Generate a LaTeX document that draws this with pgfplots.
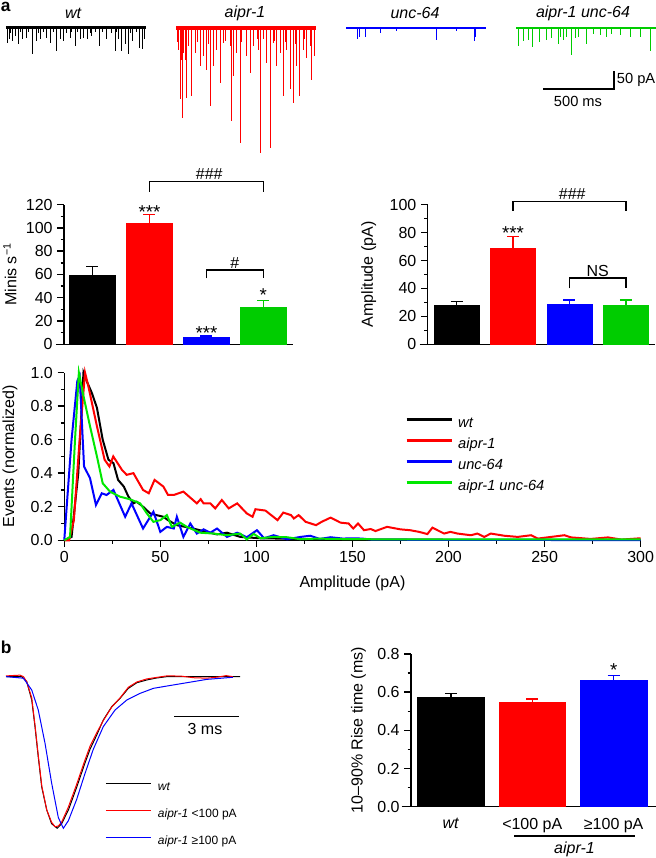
\documentclass[border=0pt]{standalone}
\usepackage{fontspec}
\setmainfont{Liberation Sans}
\usepackage{pgfplots}
\pgfplotsset{compat=1.18}

\definecolor{pred}{RGB}{255,0,0}
\definecolor{pblue}{RGB}{0,0,255}
\definecolor{bgreen}{RGB}{0,204,0}
\definecolor{lgreen}{RGB}{0,232,0}

\newcommand\fs{\fontsize{12pt}{14pt}\selectfont}
\tikzset{bk/.style={line width=1.1pt, black}, st/.style={anchor=base, font=\fontsize{14pt}{16pt}\selectfont}}

\pgfplotsset{
  /pgf/number format/assume math mode=true,
  every axis/.append style={font=\fs},
  tick label style={font=\fs},
  traceax/.style={scale only axis, hide axis, clip=false, width=105pt, height=97pt,
    xmin=0, xmax=1000, ymin=-360, ymax=0, anchor=north west},
  barax/.style={scale only axis, axis x line=bottom, axis y line=left,
    axis line style={-, line width=1.1pt}, tick style={line width=1.1pt, black},
    tick align=outside, major tick length=5pt, minor tick length=2.6pt,
    xtick=\empty, ymin=0, clip=false, minor y tick num=1, anchor=south west},
  errb/.style={error bars/.cd, y dir=plus, y explicit,
    error bar style={line width=1.1pt, #1},
    error mark options={rotate=90, line width=1.1pt, #1, mark size=4.5pt}},
}

\begin{document}
\begin{tikzpicture}
\useasboundingbox (0,0) rectangle (492pt,643.5pt);

% ---------- panel a labels ----------
\node[font=\fontsize{13pt}{15pt}\selectfont\bfseries, anchor=west, inner sep=0pt] at (0.4pt,638pt) {a};
\node[font=\fs\itshape] at (54.75pt,633.5pt) {wt};
\node[font=\fs\itshape] at (183.75pt,633.5pt) {aipr-1};
\node[font=\fs\itshape] at (311.25pt,633.5pt) {unc-64};
\node[font=\fs\itshape] at (437.25pt,633.5pt) {aipr-1 unc-64};

% ---------- traces ----------
\begin{axis}[traceax, at={(4.5pt,622.9pt)}]
\addplot[black, line width=2.2pt] coordinates {(0,0) (1000,0)};
\addplot[black, ycomb, line width=0.6pt] coordinates {
(10,-42)(24,-32)(45,-37)(64,-23)(88,-46)(119,-32)(143,-28)(190,-74)(214,-37)(248,-31)
(290,-28)(314,-42)(357,-65)(386,-32)(409,-37)(457,-28)(493,-51)(528,-32)(552,-28)(581,-31)
(612,-23)(666,-51)(719,-32)(778,-65)(802,-32)(826,-65)(850,-46)(873,-74)(904,-37)(952,-56)
(976,-60)(992,-32)(35,-15)(100,-12)(160,-14)(230,-16)(270,-12)(340,-14)(430,-15)(470,-12)
(510,-14)(600,-15)(640,-12)(690,-14)(750,-16)(790,-14)(890,-15)(930,-12)};
\end{axis}

\begin{axis}[traceax, at={(132pt,622.5pt)}]
\addplot[pred, line width=2.6pt] coordinates {(0,0) (1000,0)};
\addplot[pred, ycomb, line width=0.6pt] coordinates {
(29,-199)(45,-250)(64,-88)(76,-194)(112,-190)(136,-69)(171,-106)(195,-79)(219,-116)(243,-218)
(267,-106)(290,-60)(314,-153)(338,-42)(386,-51)(393,-259)(409,-134)(433,-69)(457,-319)(505,-79)
(528,-125)(552,-51)(588,-60)(605,-349)(623,-32)(647,-97)(671,-333)(695,-42)(719,-106)(743,-69)
(766,-190)(790,-60)(814,-171)(838,-208)(862,-106)(885,-190)(909,-60)(933,-83)(957,-51)(969,-144)
(992,-79)(10,-40)(20,-60)(35,-90)(55,-70)(90,-50)(150,-40)(230,-45)(350,-35)(470,-40)(580,-30)
(700,-35)(780,-40)(850,-45)(920,-30)};
\end{axis}

\begin{axis}[traceax, at={(259.5pt,622.5pt)}]
\addplot[pblue, line width=2.0pt] coordinates {(0,0) (1000,0)};
\addplot[pblue, ycomb, line width=0.6pt] coordinates {
(81,-31)(95,-26)(136,-24)(243,-15)(362,-9)(643,-33)(790,-7)(914,-37)(923,-26)};
\end{axis}

\begin{axis}[traceax, at={(387pt,622.5pt)}]
\addplot[bgreen, line width=2.0pt] coordinates {(0,0) (1000,0)};
\addplot[bgreen, ycomb, line width=0.6pt] coordinates {
(19,-49)(52,-37)(88,-33)(119,-54)(167,-40)(219,-33)(255,-28)(302,-44)(319,-24)(338,-33)
(362,-26)(393,-74)(421,-28)(445,-26)(505,-44)(552,-17)(600,-19)(647,-26)(683,-17)(743,-20)
(814,-26)(885,-26)(957,-63)};
\end{axis}

% scale bar a
\draw[bk] (407.25pt,576.75pt) -- (460.5pt,576.75pt) -- (460.5pt,590.25pt);
\node[font=\fontsize{11pt}{13pt}\selectfont, anchor=west, inner sep=0pt] at (462.5pt,583.5pt) {50 pA};
\node[font=\fontsize{11pt}{13pt}\selectfont] at (433.5pt,567.5pt) {500 ms};

% ---------- bar chart: minis ----------
\begin{axis}[barax, at={(48pt,385.3pt)}, width=171.75pt, height=104.7pt,
  xmin=-0.5, xmax=3.52, ymax=120, ytick={0,20,...,120},
  ylabel={Minis s\textsuperscript{−1}},
  ylabel style={at={(axis description cs:-0.236,0.5)}, anchor=center}]
\addplot[ybar, bar width=0.81, fill=black, draw=black, line width=0.3pt, errb=black]
  coordinates {(0,59.6) +- (0,7.4)};
\addplot[ybar, bar width=0.81, fill=pred, draw=pred, line width=0.3pt, errb=pred]
  coordinates {(1,104) +- (0,7.7)};
\addplot[ybar, bar width=0.81, fill=pblue, draw=pblue, line width=0.3pt, errb=pblue]
  coordinates {(2,5.7) +- (0,1.5)};
\addplot[ybar, bar width=0.81, fill=bgreen, draw=bgreen, line width=0.3pt, errb=bgreen]
  coordinates {(3,31.8) +- (0,5.7)};
\draw[bk] ([xshift=-6pt]axis description cs:0,0) -- (axis description cs:0,0);
\node[st] at (axis cs:1,108.3) {***};
\node[st] at (axis cs:2,3.8) {***};
\node[st] at (axis cs:3,36.7) {*};
\draw[bk] (axis cs:1,131) -- (axis cs:1,140) -- (axis cs:3,140) -- (axis cs:3,131);
\node[anchor=base] at (axis cs:2.05,141.5) {\#\#\#};
\draw[bk] (axis cs:2,56.7) -- (axis cs:2,63.9) -- (axis cs:3,63.9) -- (axis cs:3,56.7);
\node[anchor=base] at (axis cs:2.5,65.5) {\#};
\end{axis}

% ---------- bar chart: amplitude ----------
\begin{axis}[barax, at={(320.8pt,385.3pt)}, width=170.25pt, height=104.7pt,
  xmin=-0.51, xmax=3.51, ymax=100, ytick={0,20,...,100},
  ylabel={Amplitude (pA)},
  ylabel style={at={(axis description cs:-0.26,0.5)}, anchor=center}]
\addplot[ybar, bar width=0.8, fill=black, draw=black, line width=0.3pt, errb=black]
  coordinates {(0,28.2) +- (0,2.6)};
\addplot[ybar, bar width=0.8, fill=pred, draw=pred, line width=0.3pt, errb=pred]
  coordinates {(1,68.7) +- (0,8.6)};
\addplot[ybar, bar width=0.8, fill=pblue, draw=pblue, line width=0.3pt, errb=pblue]
  coordinates {(2,28.9) +- (0,2.8)};
\addplot[ybar, bar width=0.8, fill=bgreen, draw=bgreen, line width=0.3pt, errb=bgreen]
  coordinates {(3,27.9) +- (0,3.8)};
\draw[bk] ([xshift=-6pt]axis description cs:0,0) -- (axis description cs:0,0);
\node[st] at (axis cs:1,74.9) {***};
\draw[bk] (axis cs:1,95.5) -- (axis cs:1,102.2) -- (axis cs:3,102.2) -- (axis cs:3,95.5);
\node[anchor=base] at (axis cs:2.05,103.8) {\#\#\#};
\draw[bk] (axis cs:2,40) -- (axis cs:2,47.3) -- (axis cs:3,47.3) -- (axis cs:3,40);
\node[anchor=base] at (axis cs:2.5,48.5) {NS};
\end{axis}

% ---------- histogram ----------
\begin{axis}[scale only axis, anchor=south west, at={(48.2pt,238.3pt)},
  width=432.3pt, height=125.8pt, clip=false,
  axis x line=bottom, axis y line=left,
  axis line style={-, line width=1.1pt}, tick style={line width=1.1pt, black},
  tick align=outside, major tick length=5pt, minor tick length=2.6pt,
  xmin=0, xmax=300, ymin=0, ymax=1,
  xtick={0,50,...,300}, minor x tick num=1,
  ytick={0,0.2,...,1.0}, minor y tick num=1,
  yticklabel style={/pgf/number format/.cd, fixed, fixed zerofill, precision=1},
  xlabel={Amplitude (pA)},
  xlabel style={at={(axis description cs:0.5,0)}, anchor=center, yshift=-32pt},
  ylabel={Events (normalized)},
  ylabel style={at={(axis description cs:-0.094,0.5)}, anchor=center},
  legend cell align=left,
  legend image code/.code={\draw[#1, line width=2pt] (0pt,0.32em) -- (33.75pt,0.32em);},
  legend style={at={(axis description cs:0.591,0.74)}, anchor=north west,
    draw=none, fill=none, inner sep=0pt, row sep=4.75pt,
    font=\fontsize{11pt}{13pt}\selectfont\itshape,
    nodes={inner sep=0pt, text height=8pt, text depth=3pt},
    /tikz/every odd column/.append style={column sep=4pt}},
  every axis plot/.append style={line width=1.5pt}]
\addplot[black] coordinates {
(0,0)(3.8,0.02)(7.3,0.40)(10,1.0)(12,0.94)(14.3,0.88)(17,0.79)(20,0.6)(23,0.48)(25.6,0.46)
(28,0.36)(31,0.32)(33.4,0.26)(36,0.22)(37.7,0.23)(41,0.20)(44.7,0.16)(48,0.15)(51.6,0.14)(54,0.12)
(58.6,0.09)(63,0.08)(67,0.07)(74,0.05)(79.5,0.035)(84.7,0.045)(91.6,0.02)(102,0.012)(112.5,0.01)
(123,0.006)(140,0.005)(160,0.004)(200,0.003)(250,0.002)(300,0.002)};
\addlegendentry{wt}
\addplot[pred] coordinates {
(0,0)(2.5,0)(5,0.12)(8,0.6)(10.8,1.0)(12.5,0.92)(17,0.68)(21,0.48)(23.5,0.44)(25.5,0.5)
(30,0.42)(32.5,0.39)(36,0.40)(41,0.30)(44,0.28)(47,0.36)(51.6,0.32)(54,0.27)(57,0.27)(62,0.29)
(66,0.25)(69,0.22)(71,0.245)(72.5,0.22)(76,0.22)(78.6,0.19)(82,0.24)(85.6,0.19)(90,0.22)(95,0.16)
(98,0.14)(99.5,0.185)(104.7,0.177)(111,0.12)(114,0.165)(118,0.15)(119.5,0.13)(122,0.15)(125.6,0.11)
(127,0.105)(131,0.09)(134,0.11)(138.6,0.135)(143.8,0.105)(148,0.10)(150.4,0.07)(152.9,0.10)(156,0.06)
(159.5,0.067)(162,0.055)(168,0.08)(175,0.065)(180,0.06)(184.7,0.05)(189,0.037)(191.6,0.075)(197.7,0.04)
(201,0.05)(204.7,0.04)(211.6,0.03)(215,0.04)(218.6,0.02)(222,0.04)(229,0.027)(236,0.02)(243,0.03)
(246.4,0.01)(253.4,0.02)(260.3,0.03)(263.8,0.017)(274,0.008)(283,0.017)(290,0.004)(300,0.012)};
\addlegendentry{aipr-1}
\addplot[pblue] coordinates {
(0,0)(3.8,0.6)(6.8,0.95)(8,0.98)(10.3,0.44)(13.4,0.37)(16.5,0.21)(19.5,0.28)(22,0.27)(25.6,0.30)
(31.7,0.14)(35,0.22)(41,0.07)(46.4,0.17)(50,0.05)(53.4,0.08)(57,0.07)(58.6,0.14)(62,0.02)(65.6,0.10)
(69,0.04)(72.5,0.065)(76,0.045)(79.5,0.07)(84.7,0.02)(90,0.045)(95,0.018)(100.3,0.06)(104,0.012)
(109,0.03)(116,0.006)(123,0.02)(128,0.027)(133,0.008)(138.6,0.018)(145,0.01)(150,0.012)(155,0.01)
(160,0.004)(180,0.003)(220,0.002)(300,0.001)};
\addlegendentry{unc-64}
\addplot[lgreen] coordinates {
(0,0)(3,0.02)(5.6,0.6)(7.6,1.0)(10,0.86)(13.4,0.68)(17,0.50)(20,0.34)(23.8,0.29)(29,0.26)
(34,0.245)(39.5,0.22)(43,0.16)(46.4,0.11)(50,0.12)(53.4,0.15)(56,0.08)(60.3,0.105)(63.8,0.08)
(70.8,0.045)(77.7,0.04)(84.7,0.03)(91.6,0.04)(95,0.005)(98.6,0.038)(102,0.012)(109,0.02)(116,0.018)
(123,0.006)(131.6,0.01)(140,0.008)(160,0.006)(200,0.006)(250,0.005)(300,0.005)};
\addlegendentry{aipr-1 unc-64}
\end{axis}

% ---------- panel b ----------
\node[font=\fontsize{13pt}{15pt}\selectfont\bfseries, anchor=west, inner sep=0pt] at (0.4pt,158.25pt) {b};

\begin{axis}[scale only axis, hide axis, clip=false, anchor=north west,
  at={(4.5pt,136pt)}, width=175.5pt, height=113.7pt,
  xmin=0, xmax=10.73, ymin=-1, ymax=0,
  every axis plot/.append style={line width=0.75pt},
  legend cell align=left,
  legend image code/.code={\draw[#1] (0pt,0.3em) -- (33.75pt,0.3em);},
  legend style={at={(axis description cs:0.423,0.31)}, anchor=north west,
    draw=none, fill=none, inner sep=0pt, row sep=10.75pt,
    font=\fontsize{9pt}{11pt}\selectfont,
    nodes={inner sep=0pt, text height=7pt, text depth=2.5pt},
    /tikz/every odd column/.append style={column sep=5pt}}]
\addplot[black] coordinates {
(0,0)(0.72,0)(0.95,-0.033)(1.18,-0.154)(1.33,-0.33)(1.48,-0.53)(1.64,-0.73)(1.87,-0.88)(2.09,-0.97)
(2.35,-1.0)(2.55,-0.97)(2.86,-0.88)(3.24,-0.73)(3.62,-0.57)(3.85,-0.48)(4.16,-0.385)(4.46,-0.286)
(4.85,-0.198)(5.23,-0.143)(5.61,-0.077)(6.0,-0.04)(6.45,-0.022)(6.9,-0.009)(7.37,0)(10.73,0)};
\addlegendentry{\textit{wt}}
\addplot[pred] coordinates {
(0,0.005)(0.64,0.01)(0.8,0.0)(0.95,-0.033)(1.18,-0.14)(1.33,-0.32)(1.48,-0.52)(1.64,-0.72)(1.87,-0.88)
(2.09,-0.96)(2.25,-0.99)(2.4,-0.985)(2.55,-0.96)(2.86,-0.86)(3.24,-0.71)(3.62,-0.55)(3.85,-0.46)
(4.16,-0.37)(4.46,-0.29)(4.85,-0.2)(5.23,-0.14)(5.61,-0.07)(6.0,-0.035)(6.45,-0.015)(6.9,-0.005)
(7.37,0.005)(8.0,0.004)(8.6,-0.007)(9.2,-0.01)(9.7,-0.003)(10.1,0.007)(10.4,0)};
\addlegendentry{\textit{aipr-1} <100 pA}
\addplot[pblue] coordinates {
(0,0)(0.8,-0.01)(1.18,-0.088)(1.48,-0.22)(1.79,-0.44)(2.09,-0.70)(2.4,-0.93)(2.63,-1.0)(2.86,-0.95)
(3.24,-0.81)(3.62,-0.64)(4.0,-0.48)(4.46,-0.33)(5.0,-0.22)(5.54,-0.154)(6.15,-0.11)(6.76,-0.077)
(7.37,-0.062)(8.29,-0.04)(9.2,-0.018)(10.4,-0.004)};
\addlegendentry{\textit{aipr-1} ≥100 pA}
\end{axis}

\draw[bk] (130.5pt,106pt) -- (179.25pt,106pt);
\node[font=\fs] at (153.75pt,97pt) {3 ms};

% ---------- rise time bar chart ----------
\begin{axis}[barax, at={(308.25pt,38.5pt)}, width=183.75pt, height=114.5pt,
  xmin=-0.49, xmax=2.52, ymax=0.8, ytick={0,0.2,...,0.8},
  yticklabel style={/pgf/number format/.cd, fixed, fixed zerofill, precision=1},
  xtick={0,1,2}, xticklabels={\textit{wt},<100 pA,≥100 pA},
  major x tick style={draw=none},
  ylabel={10–90\% Rise time (ms)},
  ylabel style={at={(axis description cs:-0.214,0.5)}, anchor=center}]
\addplot[ybar, bar width=0.82, fill=black, draw=black, line width=0.3pt, errb=black]
  coordinates {(0,0.576) +- (0,0.018)};
\addplot[ybar, bar width=0.82, fill=pred, draw=pred, line width=0.3pt, errb=pred]
  coordinates {(1,0.547) +- (0,0.017)};
\addplot[ybar, bar width=0.82, fill=pblue, draw=pblue, line width=0.3pt, errb=pblue]
  coordinates {(2,0.664) +- (0,0.024)};
\draw[bk] ([xshift=-7pt]axis description cs:0,0) -- (axis description cs:0,0);
\node[st] at (axis cs:2,0.683) {*};
\end{axis}

\draw[line width=1.6pt] (385.5pt,16.7pt) -- (476.25pt,16.7pt);
\node[font=\fs\itshape] at (430.9pt,6.3pt) {aipr-1};

\end{tikzpicture}
\end{document}
